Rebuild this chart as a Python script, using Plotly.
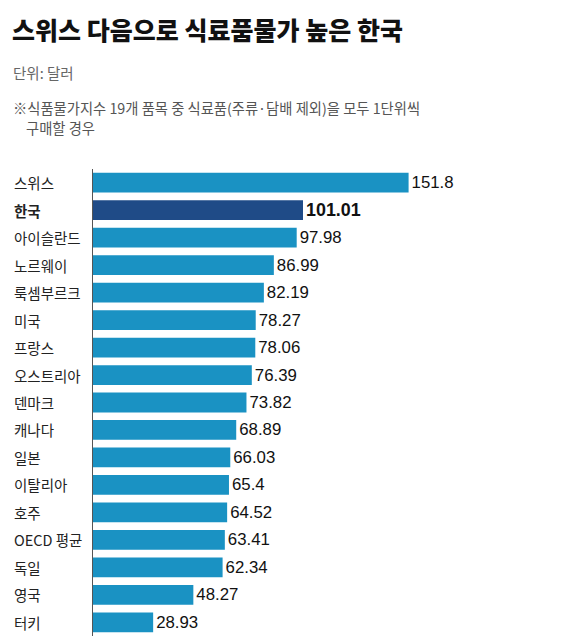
import plotly.graph_objects as go

# data
countries = ["스위스", "한국", "아이슬란드", "노르웨이", "룩셈부르크", "미국", "프랑스",
             "오스트리아", "덴마크", "캐나다", "일본", "이탈리아", "호주", "OECD 평균",
             "독일", "영국", "터키"]
values = [151.8, 101.01, 97.98, 86.99, 82.19, 78.27, 78.06, 76.39, 73.82, 68.89,
          66.03, 65.4, 64.52, 63.41, 62.34, 48.27, 28.93]
highlight = "한국"

title = "스위스 다음으로 식료품물가 높은 한국"
unit = "단위: 달러"
note1 = "※식품물가지수 19개 품목 중 식료품(주류·담배 제외)을 모두 1단위씩"
note2 = "구매할 경우"

FONT = "Noto Sans CJK KR"
NUMFONT = "Liberation Sans"
OFF = 8  # page body margin
W, H = 566, 634
ML, MR, MT, MB = 85, 10, 161, 6
plot_w = W - ML - MR
plot_h = H - MT - MB


def px(x):
    # page pixel -> paper x
    return (x - OFF - ML) / plot_w


def py(y):
    # page pixel -> paper y
    return (H - MB - (y - OFF)) / plot_h


colors = ["#1f4b87" if c == highlight else "#1a92c3" for c in countries]
labels = ["<b>%s</b>" % v if c == highlight else str(v) for c, v in zip(countries, values)]
sizes = [19 if c == highlight else 16.8 for c in countries]

fig = go.Figure(go.Bar(
    x=values, y=countries, orientation="h",
    marker=dict(color=colors, line=dict(width=0)),
    text=labels, textposition="outside",
    textfont=dict(family=NUMFONT, size=sizes, color="#111"),
    cliponaxis=False, hoverinfo="skip",
))

# category labels, left aligned
for c in countries:
    txt = "<b>%s</b>" % c if c == highlight else c
    fig.add_annotation(x=px(12), xref="paper", y=c, yref="y",
                       text=txt, showarrow=False, xanchor="left",
                       font=dict(family=FONT, size=14.5, color="#222"))

fig.add_annotation(x=px(10), xref="paper", y=py(29), yref="paper",
                   text=title, showarrow=False,
                   xanchor="left", yanchor="middle",
                   font=dict(family=FONT, size=25, color="#111", weight=900))
fig.add_annotation(x=px(11), xref="paper", y=py(72), yref="paper",
                   text=unit, showarrow=False, xanchor="left", yanchor="middle",
                   font=dict(family=FONT, size=14.5, color="#666"))
fig.add_annotation(x=px(11), xref="paper", y=py(108), yref="paper",
                   text=note1, showarrow=False, xanchor="left", yanchor="middle",
                   font=dict(family=FONT, size=14.3, color="#555"))
fig.add_annotation(x=px(24), xref="paper", y=py(127), yref="paper",
                   text=note2, showarrow=False, xanchor="left", yanchor="middle",
                   font=dict(family=FONT, size=14.3, color="#555"))

fig.update_layout(
    width=W, height=H,
    margin=dict(l=ML, r=MR, t=MT, b=MB),
    paper_bgcolor="white", plot_bgcolor="white",
    bargap=0.28, showlegend=False,
    font=dict(family=FONT),
    xaxis=dict(range=[0, plot_w / 2.079], visible=False, fixedrange=True),
    yaxis=dict(autorange="reversed", showticklabels=False, ticks="",
               showline=True, linecolor="#555", linewidth=1, showgrid=False,
               zeroline=False, fixedrange=True),
)

fig.write_html("out.html")
